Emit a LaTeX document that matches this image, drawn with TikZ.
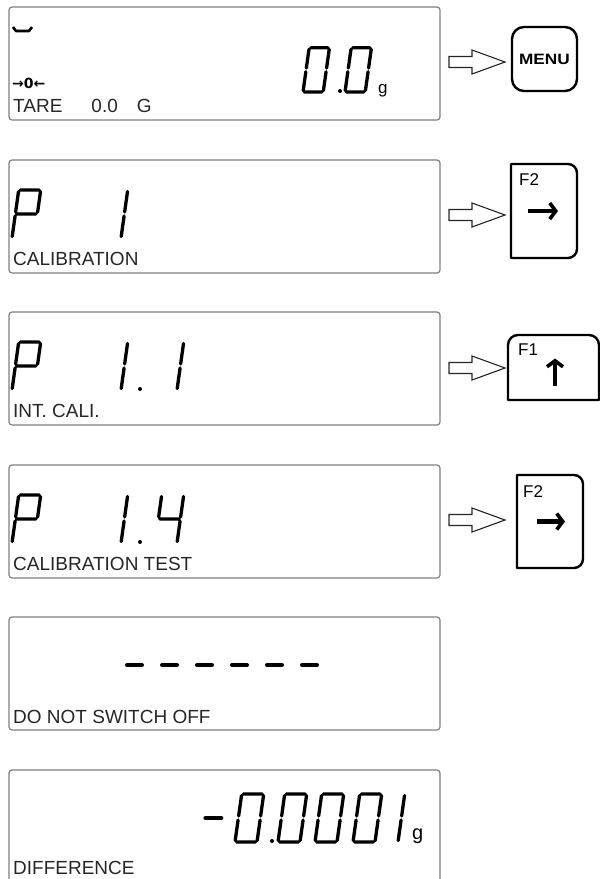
\documentclass[tikz,border=0pt]{standalone}
\usepackage{fontspec}
\setmainfont{Liberation Sans}
\newfontfamily\symfont{DejaVu Sans}
\usetikzlibrary{arrows.meta}

\tikzset{
  seg/.style={line width=3.3pt,line cap=round,xslant=.14},
  pics/lcdzero/.style={code={\draw[seg] (1.5,48)--(20.5,48) (22,46.5)--(22,26) (22,22)--(22,1.5) (20.5,0)--(1.5,0) (0,1.5)--(0,22) (0,26)--(0,46.5);}},
  pics/lcdone/.style={code={\draw[seg] (22,46.5)--(22,26) (22,22)--(22,1.5);}},
  pics/lcdP/.style={code={\draw[seg] (1.5,48)--(20.5,48) (22,46.5)--(22,26) (20.5,24)--(1.5,24) (0,26)--(0,46.5) (0,22)--(0,1.5);}},
  pics/lcdfour/.style={code={\draw[seg] (0,46.5)--(0,26) (1.5,24)--(20.5,24) (22,46.5)--(22,26) (22,22)--(22,1.5);}},
  pics/lcdminus/.style={code={\draw[seg,line width=4pt] (3,24)--(19,24);}},
  pics/hollow/.style={code={\draw[line width=1.1pt,draw=black!85,fill=white,line join=miter] (0,5.5) -- (23,5.5) -- (23,12) -- (56,0) -- (23,-12) -- (23,-5.5) -- (0,-5.5) -- cycle;}}
}

\begin{document}
\begin{tikzpicture}[x=1pt,y=1pt,
  lcdbox/.style={draw=black!50,line width=1.2pt,rounded corners=3pt,minimum width=431pt,minimum height=113pt,anchor=north west,inner sep=0pt,outer sep=0pt},
  lbl/.style={anchor=base west,inner sep=0pt,font=\fontsize{19}{19}\selectfont,text=black!85},
  keyspot/.style={inner sep=0pt,outer sep=0pt},
  keyline/.style={line width=2.4pt,line join=round},
  keylbl/.style={anchor=north west,inner sep=0pt,font=\fontsize{17}{17}\selectfont},
  keyarr/.style={line width=4.2pt,-{Straight Barb[length=6pt,width=16pt,line width=3.6pt]}}
]
\useasboundingbox (0,0) rectangle (600,-879);

% displays
\node[lcdbox] (d1) at (9,-7) {};
\node[lcdbox] (d2) at (9,-160) {};
\node[lcdbox] (d3) at (9,-312) {};
\node[lcdbox] (d4) at (9,-465) {};
\node[lcdbox] (d5) at (9,-617) {};
\node[lcdbox] (d6) at (9,-770) {};

% bottom lines of the displays
\node[lbl] (t1) at ([shift={(4,8)}]d1.south west) {TARE\hspace{29pt}0.0\hspace{19pt}G};
\node[lbl] (t2) at ([shift={(4,8)}]d2.south west) {CALIBRATION};
\node[lbl] (t3) at ([shift={(4,8)}]d3.south west) {INT. CALI.};
\node[lbl] (t4) at ([shift={(4,8)}]d4.south west) {CALIBRATION TEST};
\node[lbl] (t5) at ([shift={(4,7)}]d5.south west) {DO NOT SWITCH OFF};
\node[lbl] (t6) at ([shift={(4,9)}]d6.south west) {DIFFERENCE};

% first display: weighing mode
\draw[line width=2.6pt,line join=round] (13,-27) -- (16,-31) -- (29,-31) -- (32,-27);
\node[anchor=base west,inner sep=0pt,font=\symfont\bfseries\fontsize{14}{14}\selectfont] (zero) at (12,-88) {→0←};
\pic[scale=.92] at (303,-92) {lcdzero};
\fill (340,-91) circle (2);
\pic[scale=.92] at (345,-92) {lcdzero};
\node[anchor=base west,inner sep=0pt,font=\fontsize{17}{17}\selectfont] (u1) at (378,-93) {g};

% P 1
\pic at (12,-238) {lcdP};
\pic at (99,-238) {lcdone};

% P 1.1
\pic at (12,-390) {lcdP};
\pic at (99,-390) {lcdone};
\fill (140,-389) circle (2);
\pic at (155,-390) {lcdone};

% P 1.4
\pic at (12,-543) {lcdP};
\pic at (99,-543) {lcdone};
\fill (140,-542) circle (2);
\pic at (155,-543) {lcdfour};

% ------
\foreach \i in {0,...,5}
  \draw[line width=4pt,line cap=round] ({127+35*\i},-665) -- ++(15,0);

% -0.0001 g
\pic at (199,-842) {lcdminus};
\pic at (235,-842) {lcdzero};
\fill (272,-841) circle (2);
\pic at (278,-842) {lcdzero};
\pic at (315,-842) {lcdzero};
\pic at (353,-842) {lcdzero};
\pic at (376,-842) {lcdone};
\node[anchor=base west,inner sep=0pt,font=\fontsize{20}{20}\selectfont] (u6) at (412,-839) {g};

% keys
\node[keyspot,draw,keyline,rounded corners=12pt,minimum width=65pt,minimum height=64pt,font=\bfseries\fontsize{15}{15}\selectfont] (k1) at (544.5,-59) {\scalebox{1.15}[1]{MENU}};

\node[keyspot,minimum width=66pt,minimum height=94pt] (k2) at (544,-211) {};
\draw[keyline] (k2.south west) -- (k2.north west) -- ([xshift=-9pt]k2.north east) arc[start angle=90,end angle=0,radius=9pt] -- ([yshift=9pt]k2.south east) arc[start angle=0,end angle=-90,radius=9pt] -- cycle;
\node[keylbl] (f2a) at ([shift={(8,-9)}]k2.north west) {F2};
\draw[keyarr] ([xshift=-16pt]k2.center) -- ([xshift=14pt]k2.center);

\node[keyspot,minimum width=91pt,minimum height=65pt] (k3) at (553.5,-367.5) {};
\draw[keyline] (k3.north east) ++(0,-10) coordinate (k3c) (k3.south east) -- (k3c) arc[start angle=0,end angle=90,radius=10pt] -- ([xshift=10pt]k3.north west) arc[start angle=90,end angle=180,radius=10pt] -- (k3.south west) -- cycle;
\node[keylbl] (f1) at ([shift={(10,-9)}]k3.north west) {F1};
\draw[keyarr] ([shift={(1.5,-18)}]k3.center) -- ([shift={(1.5,9)}]k3.center);

\node[keyspot,minimum width=66pt,minimum height=93pt] (k4) at (550,-521.5) {};
\draw[keyline] (k4.south west) -- (k4.north west) -- ([xshift=-9pt]k4.north east) arc[start angle=90,end angle=0,radius=9pt] -- ([yshift=9pt]k4.south east) arc[start angle=0,end angle=-90,radius=9pt] -- cycle;
\node[keylbl] (f2b) at ([shift={(6,-10)}]k4.north west) {F2};
\draw[keyarr] ([xshift=-13pt]k4.center) -- ([xshift=15pt]k4.center);

% hollow arrows
\pic (a1) at (449,-62) {hollow};
\pic (a2) at (449,-215) {hollow};
\pic (a3) at (449,-368) {hollow};
\pic (a4) at (449,-520) {hollow};
\end{tikzpicture}
\end{document}
